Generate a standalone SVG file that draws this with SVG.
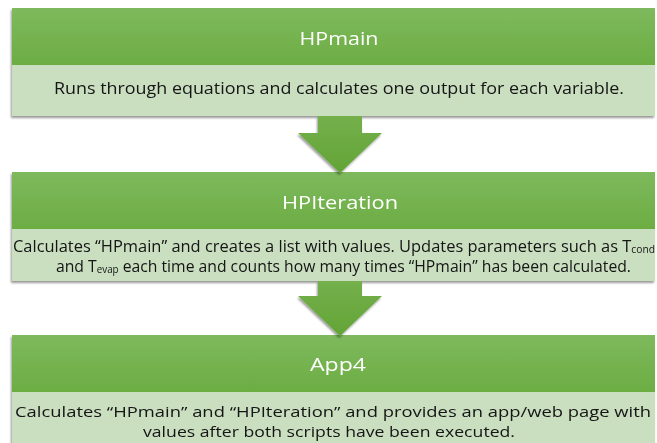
<svg xmlns="http://www.w3.org/2000/svg" width="657" height="443" viewBox="0 0 657 443">
  <defs>
    <linearGradient id="hdr" x1="0" y1="0" x2="0" y2="1">
      <stop offset="0" stop-color="#7eb95d"/>
      <stop offset="1" stop-color="#6cad43"/>
    </linearGradient>
    <linearGradient id="arw" x1="0" y1="0" x2="0" y2="1">
      <stop offset="0" stop-color="#74b04c"/>
      <stop offset="1" stop-color="#63a436"/>
    </linearGradient>
    <filter id="shadow" x="-5%" y="-10%" width="110%" height="125%">
      <feDropShadow dx="-1" dy="2" stdDeviation="1.2" flood-color="#000" flood-opacity="0.4"/>
    </filter>
  </defs>
  <style>
    .hdr { fill: url(#hdr); }
    .panel { fill: #cadfc0; }
    .title { font-family: "Open Sans", Lato, sans-serif; font-size: 19px; fill: #ffffff; text-anchor: middle; }
    .desc { font-family: "Open Sans", Lato, sans-serif; fill: #141414; }
    .sub { font-size: 10px; }
    .arrow { fill: url(#arw); filter: url(#shadow); }
  </style>
  <rect width="657" height="443" fill="#ffffff"/>

  <!-- HPmain -->
  <g id="hpmain" filter="url(#shadow)">
    <rect class="hdr" x="12" y="8" width="643" height="57"/>
    <rect class="panel" x="12" y="65" width="643" height="51"/>
    <text class="title" x="339" y="45" textLength="79" lengthAdjust="spacingAndGlyphs">HPmain</text>
    <text class="desc" x="54" y="94" font-size="17" textLength="570" lengthAdjust="spacingAndGlyphs">Runs through equations and calculates one output for each variable.</text>
  </g>

  <!-- HPIteration -->
  <g id="hpiteration" filter="url(#shadow)">
    <rect class="hdr" x="12" y="172" width="643" height="57"/>
    <rect class="panel" x="12" y="229" width="643" height="52"/>
    <text class="title" x="340" y="209" textLength="116" lengthAdjust="spacingAndGlyphs">HPIteration</text>
    <text class="desc" x="13" y="252" font-size="16" textLength="642" lengthAdjust="spacingAndGlyphs">Calculates “HPmain” and creates a list with values. Updates parameters such as T<tspan class="sub" dy="1">cond</tspan></text>
    <text class="desc" x="56" y="272" font-size="16" textLength="575" lengthAdjust="spacingAndGlyphs">and T<tspan class="sub" dy="1">evap</tspan><tspan dy="-1"> each time and counts how many times “HPmain” has been calculated.</tspan></text>
  </g>

  <!-- App4 -->
  <g id="app4" filter="url(#shadow)">
    <rect class="hdr" x="12" y="335" width="643" height="57"/>
    <rect class="panel" x="12" y="392" width="643" height="56"/>
    <text class="title" x="338" y="371" textLength="56" lengthAdjust="spacingAndGlyphs">App4</text>
    <text class="desc" x="15" y="417" font-size="15" textLength="636" lengthAdjust="spacingAndGlyphs">Calculates “HPmain” and “HPIteration” and provides an app/web page with</text>
    <text class="desc" x="143" y="437" font-size="15" textLength="372" lengthAdjust="spacingAndGlyphs">values after both scripts have been executed.</text>
  </g>

  <!-- block arrows between the stages -->
  <g id="connectors">
    <path class="arrow" d="M318,116 L362,116 L362,133 L382,133 L340,173 L298,133 L318,133 Z"/>
    <path class="arrow" d="M318,281 L362,281 L362,296 L382,296 L340,336 L298,296 L318,296 Z"/>
  </g>
</svg>
